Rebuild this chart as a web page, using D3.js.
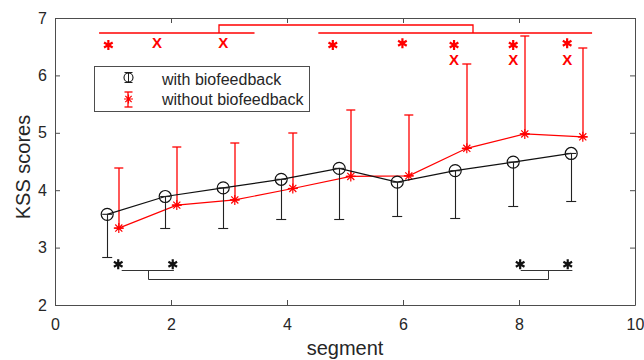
<!DOCTYPE html>
<html>
<head>
<meta charset="utf-8">
<script src="https://cdn.jsdelivr.net/npm/d3@7"></script>
<style>
  html, body { margin: 0; padding: 0; background: #fff; }
  svg { display: block; font-family: "Liberation Sans", Arial, sans-serif; }
</style>
</head>
<body>
<svg id="chart" width="644" height="360"></svg>
<script>
// ---- data ----
const segWith = [0.9, 1.9, 2.9, 3.9, 4.9, 5.9, 6.9, 7.9, 8.9];
const segWithout = [1.1, 2.1, 3.1, 4.1, 5.1, 6.1, 7.1, 8.1, 9.1];
const meanWith = [3.58, 3.89, 4.04, 4.19, 4.38, 4.14, 4.34, 4.49, 4.64];
const lowerWith = [2.84, 3.34, 3.35, 3.49, 3.50, 3.55, 3.52, 3.72, 3.82];
const meanWithout = [3.34, 3.74, 3.83, 4.03, 4.24, 4.25, 4.73, 4.98, 4.93];
const upperWithout = [4.38, 4.76, 4.83, 4.99, 5.40, 5.31, 6.19, 6.69, 6.48];
const xTicks = [0, 2, 4, 6, 8, 10];
const yTicks = [2, 3, 4, 5, 6, 7];
const seriesNames = ["with biofeedback", "without biofeedback"];
// significance annotations (data units)
const topStarX = [0.92, 4.79, 5.99, 6.88, 7.9, 8.83];
const topStarY = [6.53, 6.53, 6.56, 6.53, 6.53, 6.56];
const topCrossX = [1.76, 2.9, 6.88, 7.9, 8.83];
const topCrossY = [6.56, 6.56, 6.27, 6.27, 6.27];
const topLines = [[0.76, 3.44, 6.74], [4.54, 9.26, 6.74]];
const topBracket = [2.83, 7.21, 6.87, 6.74];
const botStarX = [1.09, 2.03, 8.02, 8.84];
const botStarY = [2.71, 2.71, 2.71, 2.71];
const botLines = [[1.15, 2.05, 2.61], [8.03, 8.92, 2.61]];
const botBracket = [1.6, 8.5, 2.46, 2.61];

// ---- layout ----
const svg = d3.select("#chart");
const x = d3.scaleLinear().domain([0, 10]).range([55, 635]);
const y = d3.scaleLinear().domain([2, 7]).range([305, 18]);
const axisColor = "#4d4d4d";
const textColor = "#262626";
const RED = "#ff0000";
const RW = 1.3; // red thin-line width

svg.append("rect").attr("width", 644).attr("height", 360).attr("fill", "#fff");

// axes
function styleAxis(g) {
  g.select(".domain").attr("stroke", axisColor);
  g.selectAll(".tick line").attr("stroke", axisColor);
  g.selectAll(".tick text").attr("fill", textColor).attr("font-size", 16)
    .attr("font-family", "Liberation Sans, Arial, sans-serif");
}
svg.append("g").attr("transform", "translate(0,305)")
  .call(d3.axisBottom(x).tickValues(xTicks).tickSize(-5).tickSizeOuter(0).tickPadding(14).tickFormat(d3.format("d")))
  .call(styleAxis);
svg.append("g").attr("transform", "translate(0,18)")
  .call(d3.axisTop(x).tickValues(xTicks).tickSize(-5).tickSizeOuter(0).tickFormat(""))
  .call(styleAxis);
svg.append("g").attr("transform", "translate(55,0)")
  .call(d3.axisLeft(y).tickValues(yTicks).tickSize(-5).tickSizeOuter(0).tickPadding(8).tickFormat(d3.format("d")))
  .call(styleAxis);
svg.append("g").attr("transform", "translate(635,0)")
  .call(d3.axisRight(y).tickValues(yTicks).tickSize(-5).tickSizeOuter(0).tickFormat(""))
  .call(styleAxis);

// axis labels
svg.append("text").attr("x", 345).attr("y", 355).attr("text-anchor", "middle")
  .attr("font-size", 20).attr("fill", textColor).text("segment");
svg.append("text").attr("transform", "translate(30,167) rotate(-90)").attr("text-anchor", "middle")
  .attr("font-size", 20).attr("fill", textColor).text("KSS scores");

// helpers
function asterisk8(g, cx, cy, r, color, w) {
  const d = [];
  for (let i = 0; i < 4; i++) {
    const a = i * Math.PI / 4;
    d.push(`M${cx - r * Math.cos(a)},${cy - r * Math.sin(a)}L${cx + r * Math.cos(a)},${cy + r * Math.sin(a)}`);
  }
  g.append("path").attr("d", d.join("")).attr("stroke", color).attr("stroke-width", w).attr("fill", "none");
}
function asterisk6(g, cx, cy, r, color, w) {
  const d = [];
  for (let i = 0; i < 3; i++) {
    const a = Math.PI / 2 + i * Math.PI / 3;
    d.push(`M${cx - r * Math.cos(a)},${cy - r * Math.sin(a)}L${cx + r * Math.cos(a)},${cy + r * Math.sin(a)}`);
  }
  g.append("path").attr("d", d.join("")).attr("stroke", color).attr("stroke-width", w).attr("fill", "none");
}
const px = v => Math.round(v) + 0.5;   // crisp (dark lines)
const pr = v => Math.round(v);         // straddle two pixels (red lines)

const plot = svg.append("g");

// without biofeedback (red): line, upper error bars
const redLine = d3.line().x((d, i) => x(segWithout[i])).y(d => y(d));
plot.append("path").datum(meanWithout).attr("d", redLine).attr("fill", "none")
  .attr("stroke", RED).attr("stroke-width", 1.2);
meanWithout.forEach((m, i) => {
  const cx = x(segWithout[i]);
  const g = plot.append("g");
  g.append("line").attr("x1", pr(cx)).attr("x2", pr(cx)).attr("y1", y(m)).attr("y2", pr(y(upperWithout[i])))
    .attr("stroke", RED).attr("stroke-width", RW);
  g.append("line").attr("x1", cx - 4.5).attr("x2", cx + 4.5).attr("y1", pr(y(upperWithout[i]))).attr("y2", pr(y(upperWithout[i])))
    .attr("stroke", RED).attr("stroke-width", RW);
  g.append("line").attr("x1", cx - 4.5).attr("x2", cx + 4.5).attr("y1", y(m)).attr("y2", y(m))
    .attr("stroke", RED).attr("stroke-width", RW);
  asterisk8(g, cx, y(m), 5, RED, 1.2);
});

// with biofeedback (black): line, lower error bars, circles
const blackLine = d3.line().x((d, i) => x(segWith[i])).y(d => y(d));
plot.append("path").datum(meanWith).attr("d", blackLine).attr("fill", "none")
  .attr("stroke", "#111").attr("stroke-width", 1.2);
meanWith.forEach((m, i) => {
  const cx = x(segWith[i]);
  const g = plot.append("g");
  g.append("line").attr("x1", px(cx)).attr("x2", px(cx)).attr("y1", y(m)).attr("y2", px(y(lowerWith[i])))
    .attr("stroke", "#222").attr("stroke-width", 1.1);
  g.append("line").attr("x1", cx - 5).attr("x2", cx + 5).attr("y1", px(y(lowerWith[i]))).attr("y2", px(y(lowerWith[i])))
    .attr("stroke", "#222").attr("stroke-width", 1.1);
  g.append("line").attr("x1", cx - 5).attr("x2", cx + 5).attr("y1", y(m)).attr("y2", y(m))
    .attr("stroke", "#222").attr("stroke-width", 1.1);
  g.append("circle").attr("cx", cx).attr("cy", y(m)).attr("r", 6)
    .attr("fill", "none").attr("stroke", "#111").attr("stroke-width", 1.2);
});

// top significance annotations (red)
const ann = svg.append("g");
topLines.forEach(l => {
  ann.append("line").attr("x1", x(l[0])).attr("x2", x(l[1])).attr("y1", pr(y(l[2]))).attr("y2", pr(y(l[2])))
    .attr("stroke", RED).attr("stroke-width", RW);
});
ann.append("path")
  .attr("d", `M${pr(x(topBracket[0]))},${pr(y(topBracket[3]))}V${pr(y(topBracket[2]))}H${pr(x(topBracket[1]))}V${pr(y(topBracket[3]))}`)
  .attr("fill", "none").attr("stroke", RED).attr("stroke-width", RW);
topStarX.forEach((sx, i) => asterisk6(ann, x(sx), y(topStarY[i]), 5, RED, 2.2));
topCrossX.forEach((sx, i) => {
  ann.append("text").attr("x", x(sx)).attr("y", y(topCrossY[i]) + 5.2).attr("text-anchor", "middle")
    .attr("font-size", 15).attr("font-weight", "bold").attr("fill", RED).text("X");
});

// bottom significance annotations (black)
botLines.forEach(l => {
  ann.append("line").attr("x1", x(l[0])).attr("x2", x(l[1])).attr("y1", px(y(l[2]))).attr("y2", px(y(l[2])))
    .attr("stroke", "#333").attr("stroke-width", 1);
});
ann.append("path")
  .attr("d", `M${px(x(botBracket[0]))},${px(y(botBracket[3]))}V${px(y(botBracket[2]))}H${px(x(botBracket[1]))}V${px(y(botBracket[3]))}`)
  .attr("fill", "none").attr("stroke", "#333").attr("stroke-width", 1);
botStarX.forEach((sx, i) => asterisk6(ann, x(sx), y(botStarY[i]), 5, "#111", 2.2));

// legend
const lg = svg.append("g");
lg.append("rect").attr("x", 94.5).attr("y", 66.5).attr("width", 215).attr("height", 45)
  .attr("fill", "#fff").attr("stroke", axisColor).attr("stroke-width", 1);
const lx = 128.5;
// black entry
lg.append("line").attr("x1", lx).attr("x2", lx).attr("y1", 72).attr("y2", 83).attr("stroke", "#222");
lg.append("line").attr("x1", lx - 4).attr("x2", lx + 4).attr("y1", 72.5).attr("y2", 72.5).attr("stroke", "#222");
lg.append("line").attr("x1", lx - 4).attr("x2", lx + 4).attr("y1", 82.5).attr("y2", 82.5).attr("stroke", "#222");
lg.append("circle").attr("cx", lx).attr("cy", 77.5).attr("r", 4.5).attr("fill", "none").attr("stroke", "#111").attr("stroke-width", 1.1);
// red entry
lg.append("line").attr("x1", 128).attr("x2", 128).attr("y1", 92).attr("y2", 107).attr("stroke", RED).attr("stroke-width", RW);
lg.append("line").attr("x1", lx - 4).attr("x2", lx + 4).attr("y1", 92).attr("y2", 92).attr("stroke", RED).attr("stroke-width", RW);
lg.append("line").attr("x1", lx - 4).attr("x2", lx + 4).attr("y1", 107).attr("y2", 107).attr("stroke", RED).attr("stroke-width", RW);
asterisk8(lg, lx, 99, 4.5, RED, 1.2);
lg.selectAll("text.lab").data(seriesNames).enter().append("text")
  .attr("x", 162).attr("y", (d, i) => 84.5 + i * 20)
  .attr("font-size", 16).attr("fill", textColor).text(d => d);
</script>
</body>
</html>
